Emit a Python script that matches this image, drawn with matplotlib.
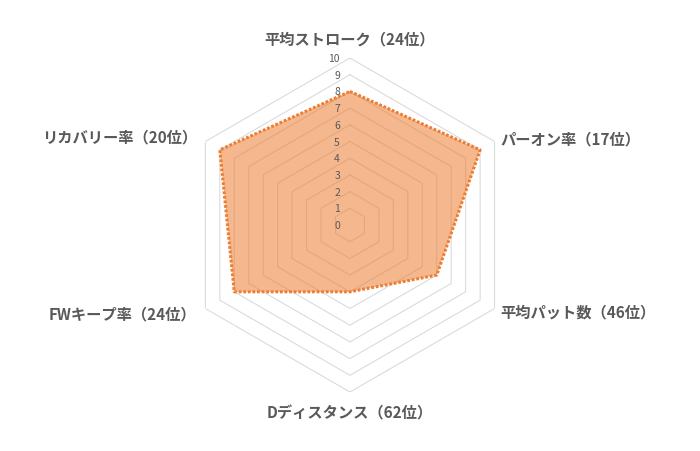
import numpy as np
import matplotlib
matplotlib.use('Agg')
from matplotlib import pyplot as plt
from matplotlib.transforms import offset_copy

plt.rcParams['font.family'] = ['Noto Sans CJK JP', 'DejaVu Sans']

categories = ['平均ストローク（24位）', 'パーオン率（17位）', '平均パット数（46位）',
              'Dディスタンス（62位）', 'FWキープ率（24位）', 'リカバリー率（20位）']
values = [8, 9, 6, 4, 8, 9]
levels = list(range(0, 11))

n = len(categories)
angles = np.linspace(0, 2 * np.pi, n, endpoint=False)
closed = np.append(angles, angles[0])

fig = plt.figure(figsize=(7, 4.52), dpi=100)
ax = fig.add_axes([0.2614, 0.1305, 0.4771, 0.7389], projection='polar')
ax.set_theta_zero_location('N')
ax.set_theta_direction(-1)
ax.set_ylim(0, 10)
ax.axis('off')

# hexagon rings
for lv in levels[1:]:
    ax.plot(closed, [lv] * (n + 1), color='#D9D9D9', lw=0.75, zorder=1)

vals = values + values[:1]
ax.fill(closed, vals, color='#ED7D31', alpha=0.55, lw=0, zorder=2)
ax.plot(closed, vals, color='#ED7D31', lw=2.2, linestyle=(0, (0.9, 0.6)),
        dash_capstyle='butt', zorder=3)

# scale labels along the top spoke
trans = offset_copy(ax.transData, fig=fig, x=-10, y=0, units='dots')
for lv in levels:
    ax.text(0, lv, str(lv), transform=trans, ha='right', va='center',
            fontsize=7.5, color='#595959', zorder=4)

# category labels
for ang, lab in zip(angles, categories):
    deg = np.degrees(ang)
    if np.isclose(deg, 0) or np.isclose(deg, 180):
        ax.text(ang, 11.2, lab, ha='center', va='center', fontsize=11,
                fontweight='bold', color='#595959')
    elif deg < 180:
        ax.text(ang, 10.4, lab, ha='left', va='center', fontsize=11,
                fontweight='bold', color='#595959')
    else:
        ax.text(ang, 10.6, lab, ha='right', va='center', fontsize=11,
                fontweight='bold', color='#595959')

fig.savefig('out.png', dpi=100)
